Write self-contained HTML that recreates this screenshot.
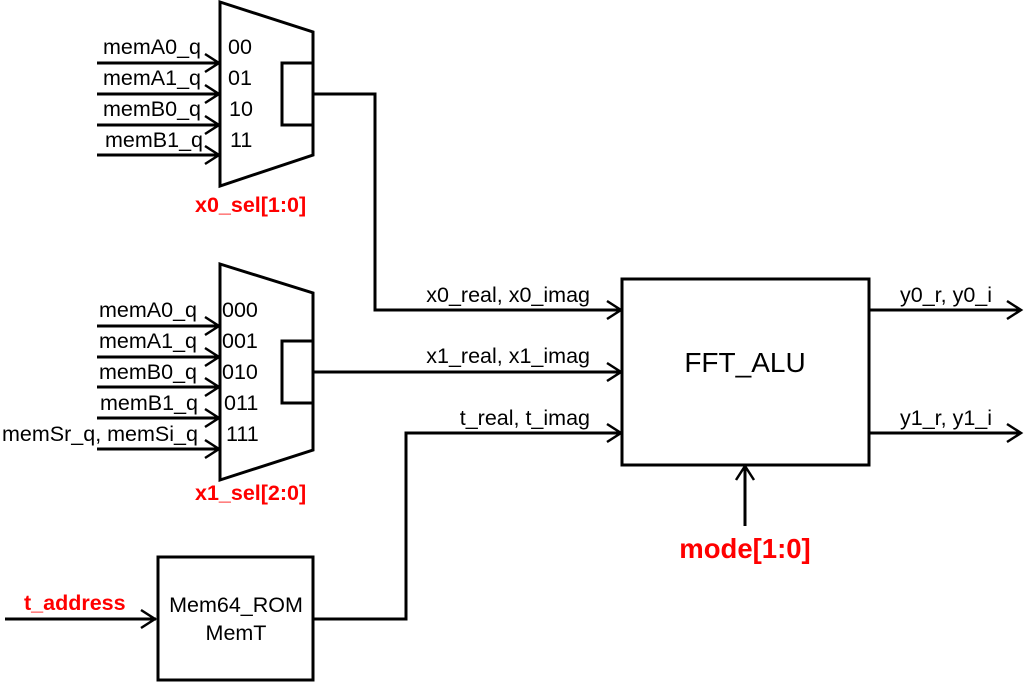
<!DOCTYPE html>
<html><head><meta charset="utf-8"><style>
html,body{margin:0;padding:0;background:#fff;}
svg{display:block;}
text{font-family:"Liberation Sans",Arial,sans-serif;fill:#000;}
.r{fill:#ff0000;font-weight:bold;}
</style></head><body>
<svg width="1024" height="683" viewBox="0 0 1024 683" xmlns="http://www.w3.org/2000/svg">
<g fill="none" stroke="#000" stroke-width="3">
<polygon points="220,2 313,32 313,155 220,186"/>
<rect x="282" y="63" width="31" height="62"/>
<polyline points="313,94 375,94 375,310 620,310"/>
<polygon points="220,264 313,293 313,450 220,480"/>
<rect x="282" y="341" width="31" height="62"/>
<line x1="313" y1="372" x2="620" y2="372"/>
<rect x="158" y="557" width="155" height="123"/>
<polyline points="313,619 406,619 406,433 620,433"/>
<line x1="5" y1="619" x2="156" y2="619"/>
<rect x="622" y="279" width="247" height="186"/>
<line x1="869" y1="310" x2="1020" y2="310"/>
<line x1="869" y1="433" x2="1020" y2="433"/>
<line x1="745" y1="526" x2="745" y2="468"/>
<line x1="97" y1="63" x2="218" y2="63"/>
<line x1="97" y1="94" x2="218" y2="94"/>
<line x1="97" y1="125" x2="218" y2="125"/>
<line x1="97" y1="155" x2="218" y2="155"/>
<line x1="97" y1="326" x2="218" y2="326"/>
<line x1="97" y1="357" x2="218" y2="357"/>
<line x1="97" y1="387" x2="218" y2="387"/>
<line x1="97" y1="418" x2="218" y2="418"/>
<line x1="97" y1="449" x2="218" y2="449"/>
</g>
<g fill="none" stroke="#000" stroke-width="2.5">
<polyline points="205,54 219,63 205,72"/>
<polyline points="205,85 219,94 205,103"/>
<polyline points="205,116 219,125 205,134"/>
<polyline points="205,146 219,155 205,164"/>
<polyline points="205,317 219,326 205,335"/>
<polyline points="205,348 219,357 205,366"/>
<polyline points="205,378 219,387 205,396"/>
<polyline points="205,409 219,418 205,427"/>
<polyline points="205,440 219,449 205,458"/>
<polyline points="607,301 621,310 607,319"/>
<polyline points="607,363 621,372 607,381"/>
<polyline points="607,424 621,433 607,442"/>
<polyline points="1007,301 1021,310 1007,319"/>
<polyline points="1007,424 1021,433 1007,442"/>
<polyline points="141,610 155,619 141,628"/>
<polyline points="736,480 745,466 754,480"/>
</g>
<g font-size="21.5">
<text x="103" y="54">memA0_q</text>
<text x="103" y="85">memA1_q</text>
<text x="103" y="116">memB0_q</text>
<text x="105" y="147">memB1_q</text>
<text x="228" y="54">00</text>
<text x="228" y="85">01</text>
<text x="229" y="116">10</text>
<text x="230" y="147">11</text>
<text x="99" y="317">memA0_q</text>
<text x="99" y="348">memA1_q</text>
<text x="99" y="379">memB0_q</text>
<text x="100" y="410">memB1_q</text>
<text x="2" y="441">memSr_q, memSi_q</text>
<text x="222" y="317">000</text>
<text x="222" y="348">001</text>
<text x="222" y="379">010</text>
<text x="224" y="410">011</text>
<text x="226" y="441">111</text>
<text x="590" y="302" text-anchor="end">x0_real, x0_imag</text>
<text x="590" y="363" text-anchor="end">x1_real, x1_imag</text>
<text x="590" y="425" text-anchor="end">t_real, t_imag</text>
<text x="900" y="302">y0_r, y0_i</text>
<text x="900" y="425">y1_r, y1_i</text>
<text x="236" y="612" text-anchor="middle">Mem64_ROM</text>
<text x="236" y="640" text-anchor="middle">MemT</text>
</g>
<text x="745" y="372" text-anchor="middle" font-size="28">FFT_ALU</text>
<text class="r" x="195" y="212" font-size="21.5">x0_sel[1:0]</text>
<text class="r" x="195" y="500" font-size="21.5">x1_sel[2:0]</text>
<text class="r" x="24" y="610" font-size="21.5">t_address</text>
<text class="r" x="745" y="558" text-anchor="middle" font-size="27.5">mode[1:0]</text>
</svg>
</body></html>
